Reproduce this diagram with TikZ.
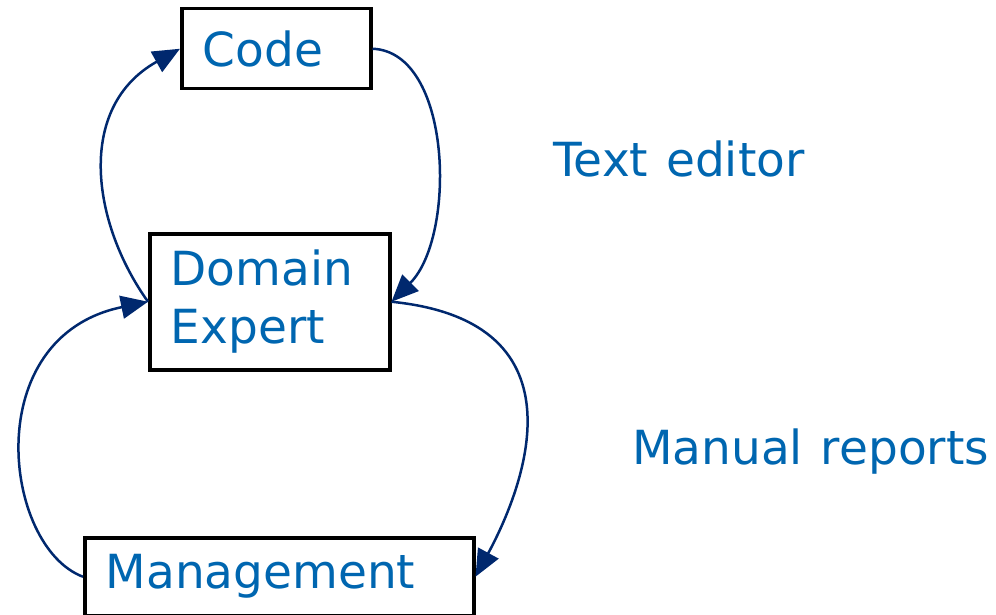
\documentclass[tikz,border=0pt]{standalone}
\usepackage{fontspec}
\setmainfont{DejaVu Sans}
\usetikzlibrary{arrows.meta}
\definecolor{textblue}{RGB}{0,102,176}
\definecolor{linknavy}{RGB}{0,40,110}

\begin{document}
\begin{tikzpicture}[x=1pt, y=-1pt]
\tikzset{every node/.style={font=\fontsize{47}{58}\selectfont, text=textblue},
    box/.style={draw=black, line width=3.5pt, rectangle, inner xsep=21pt, inner ysep=0pt, align=left, anchor=north west},
    lbl/.style={inner sep=0pt, anchor=west},
    link/.style={draw=linknavy, line width=2.5pt, -{Triangle[length=27pt, width=23pt]}}}
    \useasboundingbox (0,0) rectangle (996,615);

    \node[box, text width=147pt, minimum height=80pt] (code) at (180,7) {Code};
    \node[box, text width=198pt, minimum height=136pt] (dom) at (148,232) {Domain\\Expert};
    \node[box, text width=347pt, minimum height=78pt] (mgmt) at (83,536) {Management};

    \node[lbl] (ted) at (553,159) {Text\hspace{3pt} editor};
    \node[lbl] (rep) at (632,452) {Manual\hspace{3pt} reports};

    \draw[link] (code.east) .. controls +(80,3) and +(65,-65) .. (dom.east);
    \draw[link] (dom.west) .. controls +(-57,-80) and +(-104,58) .. (code.west);
    \draw[link] (dom.east) .. controls +(200,20) and +(46,-85) .. (mgmt.east);
    \draw[link] (mgmt.west) .. controls +(-80,-30) and +(-170,35) .. (dom.west);
\end{tikzpicture}
\end{document}
